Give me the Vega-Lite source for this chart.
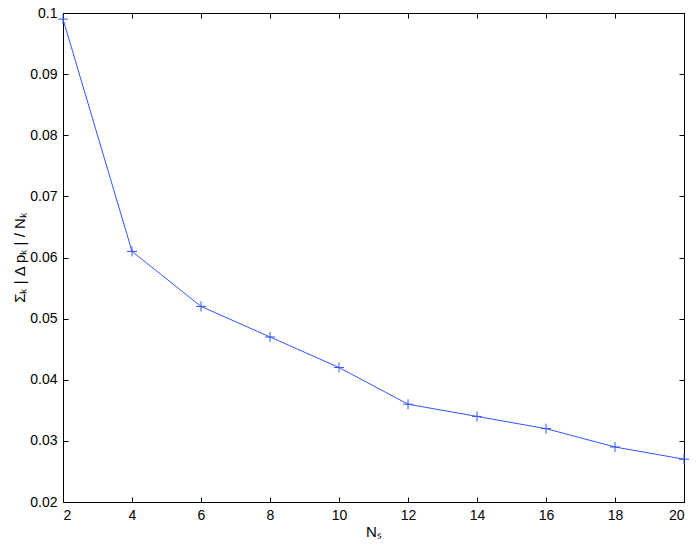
{
  "$schema": "https://vega.github.io/schema/vega-lite/v6.json",
  "autosize": "none",
  "width": 621,
  "height": 489,
  "padding": {"left": 63, "top": 13, "right": 13, "bottom": 47},
  "background": "white",
  "config": {
    "view": {"stroke": null},
    "font": "Liberation Sans",
    "axis": {
      "grid": false,
      "domainColor": "black",
      "tickColor": "black",
      "labelColor": "black",
      "titleColor": "black",
      "labelFont": "Liberation Sans",
      "titleFont": "Liberation Sans",
      "labelFontSize": 14,
      "titleFontSize": 15,
      "titleFontWeight": "normal",
      "tickSize": -5,
      "domainWidth": 1,
      "tickWidth": 1
    }
  },
  "data": {
    "values": [
      {"Ns": 2, "v": 0.099},
      {"Ns": 4, "v": 0.061},
      {"Ns": 6, "v": 0.052},
      {"Ns": 8, "v": 0.047},
      {"Ns": 10, "v": 0.042},
      {"Ns": 12, "v": 0.036},
      {"Ns": 14, "v": 0.034},
      {"Ns": 16, "v": 0.032},
      {"Ns": 18, "v": 0.029},
      {"Ns": 20, "v": 0.027}
    ]
  },
  "layer": [
    {
      "mark": {"type": "line", "color": "#3355ff", "strokeWidth": 1},
      "encoding": {
        "x": {"field": "Ns", "type": "quantitative", "scale": {"domain": [2, 20], "nice": false, "zero": false},
          "axis": {"values": [2,4,6,8,10,12,14,16,18,20], "title": "Nₛ", "labelPadding": 11, "titlePadding": 2}},
        "y": {"field": "v", "type": "quantitative", "scale": {"domain": [0.02, 0.1], "nice": false, "zero": false},
          "axis": {"values": [0.02,0.03,0.04,0.05,0.06,0.07,0.08,0.09,0.1], "format": "~g", "title": "Σₖ | Δ pₖ | / Nₖ", "labelPadding": 11, "titlePadding": 2}}
      }
    },
    {
      "mark": {"type": "point", "shape": "M-1,0L1,0M0,-1L0,1", "filled": false, "color": "#3355ff", "strokeWidth": 1, "size": 100, "opacity": 1},
      "encoding": {
        "x": {"field": "Ns", "type": "quantitative",
          "axis": {"orient": "top", "values": [2,4,6,8,10,12,14,16,18,20], "labels": false, "title": null}},
        "y": {"field": "v", "type": "quantitative",
          "axis": {"orient": "right", "values": [0.02,0.03,0.04,0.05,0.06,0.07,0.08,0.09,0.1], "labels": false, "title": null}}
      }
    }
  ],
  "resolve": {"axis": {"x": "independent", "y": "independent"}}
}
